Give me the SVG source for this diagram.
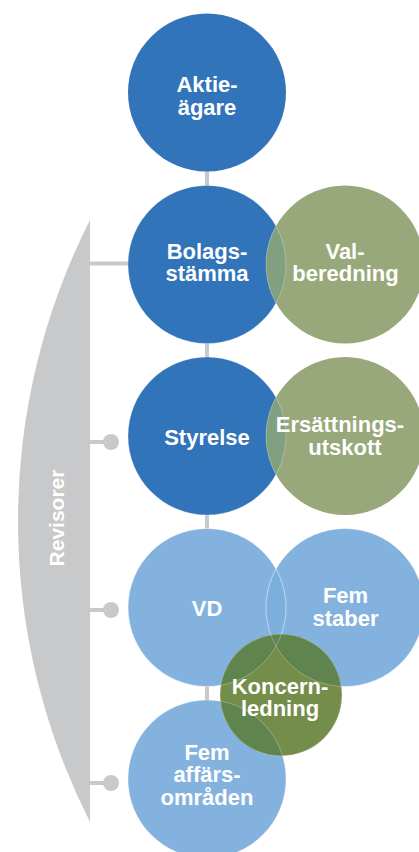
<svg xmlns="http://www.w3.org/2000/svg" width="419" height="852" viewBox="0 0 419 852">
<style>
.lbl{font-family:"Liberation Sans",Arial,sans-serif;font-weight:bold;font-size:22px;fill:#fff;text-anchor:middle}
.dk{fill:#3174b9}
.gr{fill:#98a87a}
.lb{fill:#84b2de}
.edge{fill:none;stroke:#ffffff;stroke-opacity:0.35;stroke-width:0.8}
.conn{stroke:#c8c9cb;stroke-width:4;fill:none}
.dot{fill:#c8c9cb}
</style>
<defs>
<clipPath id="cBolag"><circle cx="207" cy="264.5" r="79"/></clipPath>
<clipPath id="cStyr"><circle cx="207" cy="436" r="79"/></clipPath>
<clipPath id="cVD"><circle cx="207" cy="607.5" r="79"/></clipPath>
<clipPath id="cStab"><circle cx="345" cy="607.5" r="79"/></clipPath>
<clipPath id="cAff"><circle cx="207" cy="779" r="79"/></clipPath>
</defs>
<g id="revisorer">
<path d="M90,220 A665,665 0 0 0 90,822 Z" fill="#c8c9cb"/>
<text class="lbl" style="font-size:21px" transform="translate(64,518) rotate(-90)">Revisorer</text>
</g>
<g id="connectors">
<line class="conn" x1="207" y1="160" x2="207" y2="790"/>
<line class="conn" x1="90" y1="263.5" x2="130" y2="263.5"/>
<line class="conn" x1="90" y1="442" x2="111" y2="442"/>
<circle class="dot" cx="111" cy="442" r="8"/>
<line class="conn" x1="90" y1="610" x2="111" y2="610"/>
<circle class="dot" cx="111" cy="610" r="8"/>
<line class="conn" x1="90" y1="783" x2="111" y2="783"/>
<circle class="dot" cx="111" cy="783" r="8"/>
</g>
<g id="aktieagare">
<circle class="dk" cx="207" cy="92.5" r="79"/>
<text class="lbl" x="207" y="92">Aktie-</text>
<text class="lbl" x="207" y="114.5">ägare</text>
</g>
<g id="bolagsstamma">
<circle class="dk" cx="207" cy="264.5" r="79"/>
<text class="lbl" x="207" y="258.5">Bolags-</text>
<text class="lbl" x="207" y="281">stämma</text>
</g>
<g id="valberedning">
<circle class="gr" cx="345" cy="264.5" r="79"/>
<circle cx="345" cy="264.5" r="79" fill="#80a080" clip-path="url(#cBolag)"/>
<circle class="edge" cx="345" cy="264.5" r="79" clip-path="url(#cBolag)"/>
<circle class="edge" cx="207" cy="264.5" r="79"/>
<text class="lbl" x="345" y="258.5">Val-</text>
<text class="lbl" x="345.5" y="281">beredning</text>
</g>
<g id="styrelse">
<circle class="dk" cx="207" cy="436" r="79"/>
<text class="lbl" x="207" y="445">Styrelse</text>
</g>
<g id="ersattningsutskott">
<circle class="gr" cx="345" cy="436" r="79"/>
<circle cx="345" cy="436" r="79" fill="#80a080" clip-path="url(#cStyr)"/>
<circle class="edge" cx="345" cy="436" r="79" clip-path="url(#cStyr)"/>
<circle class="edge" cx="207" cy="436" r="79"/>
<text class="lbl" x="340" y="432">Ersättnings-</text>
<text class="lbl" x="345" y="454.5">utskott</text>
</g>
<g id="vd">
<circle class="lb" cx="207" cy="607.5" r="79"/>
<text class="lbl" x="207" y="616">VD</text>
</g>
<g id="fem-staber">
<circle class="lb" cx="345" cy="607.5" r="79"/>
<circle cx="345" cy="607.5" r="79" fill="#7cafdc" clip-path="url(#cVD)"/>
<circle class="edge" cx="345" cy="607.5" r="79"/>
<circle class="edge" cx="207" cy="607.5" r="79"/>
<text class="lbl" x="345.5" y="603">Fem</text>
<text class="lbl" x="345.5" y="626">staber</text>
</g>
<g id="fem-affarsomraden">
<circle class="lb" cx="207" cy="779" r="79"/>
<text class="lbl" x="207" y="760">Fem</text>
<text class="lbl" x="207" y="782">affärs-</text>
<text class="lbl" x="207" y="805">områden</text>
</g>
<g id="koncernledning">
<circle cx="281" cy="695" r="61" fill="#748d4a"/>
<circle cx="281" cy="695" r="61" fill="#5f844e" clip-path="url(#cVD)"/>
<circle cx="281" cy="695" r="61" fill="#5f844e" clip-path="url(#cStab)"/>
<circle cx="281" cy="695" r="61" fill="#5f844e" clip-path="url(#cAff)"/>
<circle class="edge" cx="207" cy="607.5" r="79"/>
<circle class="edge" cx="345" cy="607.5" r="79"/>
<circle class="edge" cx="207" cy="779" r="79"/>
<circle class="edge" cx="281" cy="695" r="61"/>
<text class="lbl" x="280" y="694">Koncern-</text>
<text class="lbl" x="280" y="716">ledning</text>
</g>
</svg>
